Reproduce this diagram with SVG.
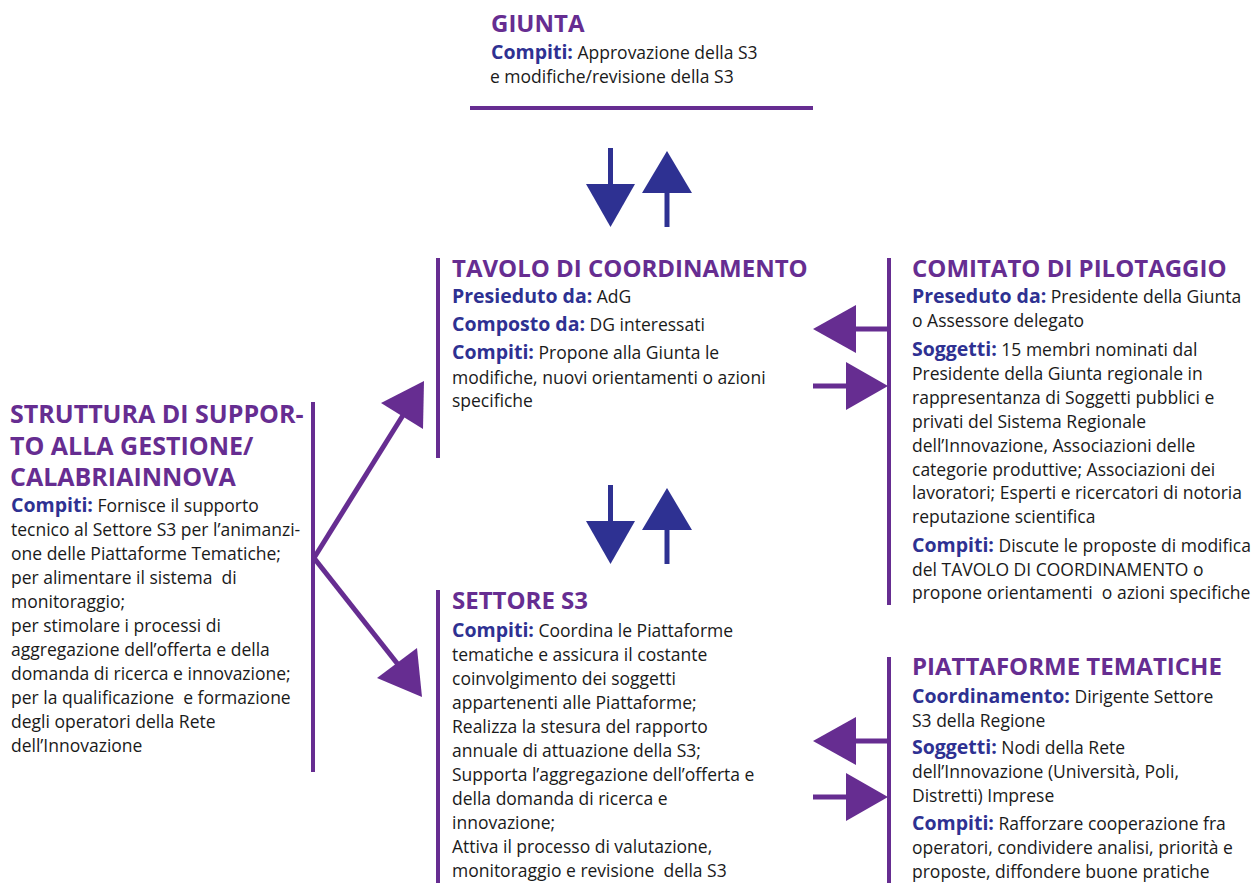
<svg xmlns="http://www.w3.org/2000/svg" width="1258" height="883" viewBox="0 0 1258 883">
<style>
text{font-family:"Open Sans","Liberation Sans",sans-serif;font-size:17.5px;fill:#1a1a1a}
.t{font-size:24px;font-weight:bold;fill:#662D91}
.tb{font-size:25px;font-weight:bold;fill:#662D91}
.l{font-size:19.5px;font-weight:bold;fill:#2E3192}
.bar{stroke:#662D91;stroke-width:4;fill:none}
.pl{stroke:#662D91;stroke-width:5;fill:none}
.ph{fill:#662D91}
.bl{stroke:#2E3192;stroke-width:5;fill:none}
.bh{fill:#2E3192}
</style>
<rect width="1258" height="883" fill="#ffffff"/>

<g id="giunta">
<text class="t" x="491" y="32">GIUNTA</text>
<text x="491" y="59"><tspan class="l">Compiti:</tspan> Approvazione della S3</text>
<text x="490" y="83">e modifiche/revisione della S3</text>
<line class="bar" x1="470" y1="108" x2="813" y2="108"/>
</g>

<g id="tavolo">
<line class="bar" x1="438" y1="258" x2="438" y2="458"/>
<text class="t" x="452" y="277">TAVOLO DI COORDINAMENTO</text>
<text x="452" y="303"><tspan class="l">Presieduto da:</tspan> AdG</text>
<text x="452" y="331"><tspan class="l">Composto da:</tspan> DG interessati</text>
<text x="452" y="359"><tspan class="l">Compiti:</tspan> Propone alla Giunta le</text>
<text x="452" y="384">modifiche, nuovi orientamenti o azioni</text>
<text x="452" y="407">specifiche</text>
</g>

<g id="comitato">
<line class="bar" x1="889" y1="258" x2="889" y2="605"/>
<text class="t" x="912" y="277">COMITATO DI PILOTAGGIO</text>
<text x="912" y="303"><tspan class="l">Preseduto da:</tspan> Presidente della Giunta</text>
<text x="912" y="327">o Assessore delegato</text>
<text x="912" y="356"><tspan class="l">Soggetti:</tspan> 15 membri nominati dal</text>
<text x="912" y="380">Presidente della Giunta regionale in</text>
<text x="912" y="404">rappresentanza di Soggetti pubblici e</text>
<text x="912" y="428">privati del Sistema Regionale</text>
<text x="912" y="452">dell’Innovazione, Associazioni delle</text>
<text x="912" y="476">categorie produttive; Associazioni dei</text>
<text x="912" y="499">lavoratori; Esperti e ricercatori di notoria</text>
<text x="912" y="523">reputazione scientifica</text>
<text x="912" y="552"><tspan class="l">Compiti:</tspan> Discute le proposte di modifica</text>
<text x="912" y="576">del TAVOLO DI COORDINAMENTO o</text>
<text x="912" y="599" xml:space="preserve">propone orientamenti  o azioni specifiche</text>
</g>

<g id="struttura">
<line class="bar" x1="313" y1="402" x2="313" y2="772"/>
<text class="tb" x="10" y="423">STRUTTURA DI SUPPOR-</text>
<text class="tb" x="10" y="455">TO ALLA GESTIONE/</text>
<text class="tb" x="10" y="486">CALABRIAINNOVA</text>
<text x="11" y="512"><tspan class="l">Compiti:</tspan> Fornisce il supporto</text>
<text x="11" y="536">tecnico al Settore S3 per l’animanzi-</text>
<text x="11" y="560">one delle Piattaforme Tematiche;</text>
<text x="11" y="584" xml:space="preserve">per alimentare il sistema  di</text>
<text x="11" y="608">monitoraggio;</text>
<text x="11" y="632">per stimolare i processi di</text>
<text x="11" y="656">aggregazione dell’offerta e della</text>
<text x="11" y="680">domanda di ricerca e innovazione;</text>
<text x="11" y="704" xml:space="preserve">per la qualificazione  e formazione</text>
<text x="11" y="728">degli operatori della Rete</text>
<text x="11" y="752">dell’Innovazione</text>
</g>

<g id="settore">
<line class="bar" x1="438" y1="590" x2="438" y2="883"/>
<text class="t" x="452" y="609">SETTORE S3</text>
<text x="452" y="637"><tspan class="l">Compiti:</tspan> Coordina le Piattaforme</text>
<text x="452" y="661">tematiche e assicura il costante</text>
<text x="452" y="685">coinvolgimento dei soggetti</text>
<text x="452" y="709">appartenenti alle Piattaforme;</text>
<text x="452" y="733">Realizza la stesura del rapporto</text>
<text x="452" y="757">annuale di attuazione della S3;</text>
<text x="452" y="781">Supporta l’aggregazione dell’offerta e</text>
<text x="452" y="805">della domanda di ricerca e</text>
<text x="452" y="829">innovazione;</text>
<text x="452" y="853">Attiva il processo di valutazione,</text>
<text x="452" y="877" xml:space="preserve">monitoraggio e revisione  della S3</text>
</g>

<g id="piattaforme">
<line class="bar" x1="889" y1="657" x2="889" y2="883"/>
<text class="t" x="912" y="675">PIATTAFORME TEMATICHE</text>
<text x="912" y="703"><tspan class="l">Coordinamento:</tspan> Dirigente Settore</text>
<text x="912" y="727">S3 della Regione</text>
<text x="912" y="754"><tspan class="l">Soggetti:</tspan> Nodi della Rete</text>
<text x="912" y="778">dell’Innovazione (Università, Poli,</text>
<text x="912" y="802">Distretti) Imprese</text>
<text x="912" y="830"><tspan class="l">Compiti:</tspan> Rafforzare cooperazione fra</text>
<text x="912" y="854">operatori, condividere analisi, priorità e</text>
<text x="912" y="878">proposte, diffondere buone pratiche</text>
</g>

<g id="connectors">
<line class="bl" x1="610.5" y1="148" x2="610.5" y2="186"/>
<polygon class="bh" points="586,184 635,184 610.5,227"/>
<line class="bl" x1="667" y1="190" x2="667" y2="227"/>
<polygon class="bh" points="642,193 692,193 667,151"/>
<line class="bl" x1="610.5" y1="485" x2="610.5" y2="523"/>
<polygon class="bh" points="586,521 635,521 610.5,564"/>
<line class="bl" x1="667" y1="527" x2="667" y2="564"/>
<polygon class="bh" points="642,530 692,530 667,488"/>
<line class="pl" x1="889" y1="329" x2="852" y2="329"/>
<polygon class="ph" points="856,305 856,353 813,329"/>
<line class="pl" x1="813" y1="386" x2="850" y2="386"/>
<polygon class="ph" points="846,362 846,410 888,386"/>
<line class="pl" x1="889" y1="741" x2="852" y2="741"/>
<polygon class="ph" points="856,717 856,765 813,741"/>
<line class="pl" x1="813" y1="797" x2="850" y2="797"/>
<polygon class="ph" points="846,773 846,821 888,797"/>
<line class="pl" x1="314" y1="558" x2="405" y2="412"/>
<polygon class="ph" points="381,403 423,429 424,381"/>
<line class="pl" x1="314" y1="558" x2="400" y2="667"/>
<polygon class="ph" points="377,678 417,648 422,697"/>
</g>
</svg>
